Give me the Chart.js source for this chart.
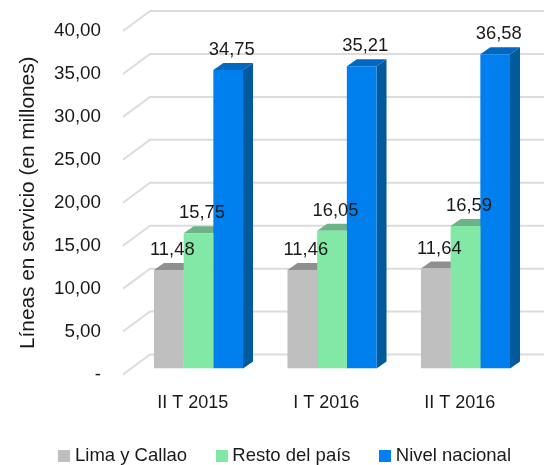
<!DOCTYPE html>
<html>
<head>
<meta charset="utf-8">
<style>
  html, body { margin: 0; padding: 0; background: #fff; }
  canvas { display: block; }
</style>
<script src="https://cdn.jsdelivr.net/npm/chart.js@4/dist/chart.umd.min.js"></script>
</head>
<body>
<canvas id="myChart" width="544" height="465"></canvas>
<script>
const categorias = ['II T 2015', 'I T 2016', 'II T 2016'];
const limaCallao = [11.48, 11.46, 11.64];
const restoPais = [15.75, 16.05, 16.59];
const nivelNacional = [34.75, 35.21, 36.58];
const etiquetasY = ['-', '5,00', '10,00', '15,00', '20,00', '25,00', '30,00', '35,00', '40,00'];

const fuente = 'Liberation Sans, Arial, sans-serif';
const colorTexto = '#1a1a1a';

// colores de cada cara: frente, tapa, lado
const caras = [
  { frente: '#bfbfbf', tapa: '#8f8f8f', lado: '#8f8f8f' },
  { frente: '#82e8a6', tapa: '#6db388', lado: '#6db388' },
  { frente: '#0080ee', tapa: '#0068c0', lado: '#005a9c' }
];

// desplazamiento del fondo y de las barras (falso 3D)
const fondo = { x: 27, y: -20 };
const frente = { x: 8.75, y: -6 };
const prof = { x: 10, y: -7 };

// cuadrito de la leyenda, asi el texto queda mas pegado que con boxWidth
function cuadro(color) {
  const c = document.createElement('canvas');
  c.width = 12;
  c.height = 12;
  const g = c.getContext('2d');
  g.fillStyle = color;
  g.fillRect(0, 0, 12, 12);
  return c;
}

const falso3D = {
  id: 'falso3D',
  beforeDatasetsDraw(chart) {
    const { ctx, scales: { y }, chartArea } = chart;
    ctx.save();
    ctx.strokeStyle = '#dcdcdc';
    ctx.lineWidth = 2;
    etiquetasY.forEach((t, i) => {
      const py = y.getPixelForValue(i * 5);
      ctx.beginPath();
      ctx.moveTo(chartArea.left, py);
      ctx.lineTo(chartArea.left + fondo.x, py + fondo.y);
      ctx.lineTo(544, py + fondo.y);
      ctx.stroke();
    });
    ctx.translate(frente.x, frente.y);
    caras.forEach((c, i) => {
      chart.getDatasetMeta(i).data.forEach(bar => {
        const l = bar.x - bar.width / 2;
        const r = bar.x + bar.width / 2;
        ctx.fillStyle = c.lado;
        ctx.beginPath();
        ctx.moveTo(r, bar.y);
        ctx.lineTo(r + prof.x, bar.y + prof.y);
        ctx.lineTo(r + prof.x, bar.base + prof.y);
        ctx.lineTo(r, bar.base);
        ctx.fill();
        ctx.fillStyle = c.tapa;
        ctx.beginPath();
        ctx.moveTo(l, bar.y);
        ctx.lineTo(l + prof.x, bar.y + prof.y);
        ctx.lineTo(r + prof.x, bar.y + prof.y);
        ctx.lineTo(r, bar.y);
        ctx.fill();
      });
    });
    ctx.restore();
  },
  beforeDatasetDraw(chart) {
    chart.ctx.save();
    chart.ctx.translate(frente.x, frente.y);
  },
  afterDatasetDraw(chart) {
    chart.ctx.restore();
  },
  afterDatasetsDraw(chart) {
    const { ctx } = chart;
    ctx.save();
    ctx.font = '18.4px ' + fuente;
    ctx.fillStyle = colorTexto;
    ctx.textAlign = 'center';
    ctx.textBaseline = 'middle';
    chart.data.datasets.forEach((ds, i) => {
      chart.getDatasetMeta(i).data.forEach((bar, j) => {
        const txt = ds.data[j].toFixed(2).replace('.', ',');
        ctx.fillText(txt, bar.x + frente.x + 3.5, bar.y + frente.y - 20);
      });
    });
    ctx.restore();
  }
};

new Chart(document.getElementById('myChart').getContext('2d'), {
  type: 'bar',
  data: {
    labels: categorias,
    datasets: [
      { label: 'Lima y Callao', data: limaCallao, backgroundColor: caras[0].frente, pointStyle: cuadro(caras[0].frente) },
      { label: 'Resto del país', data: restoPais, backgroundColor: caras[1].frente, pointStyle: cuadro(caras[1].frente) },
      { label: 'Nivel nacional', data: nivelNacional, backgroundColor: caras[2].frente, pointStyle: cuadro(caras[2].frente) }
    ]
  },
  options: {
    responsive: false,
    animation: false,
    layout: { padding: { left: 0, right: 0, top: 31, bottom: -10 } },
    datasets: { bar: { categoryPercentage: 0.667, barPercentage: 1 } },
    scales: {
      x: {
        grid: { display: false },
        border: { display: false },
        afterFit(s) { s.height = 39; },
        ticks: { color: colorTexto, font: { family: fuente, size: 18 }, padding: 10, labelOffset: 3, maxRotation: 0 }
      },
      y: {
        min: 0,
        max: 40,
        afterFit(s) { s.width = 123; },
        grid: { display: false },
        border: { display: false },
        title: {
          display: true,
          text: 'Líneas en servicio (en millones)',
          color: colorTexto,
          font: { family: fuente, size: 20.8 },
          padding: { top: 15.5, bottom: 0 }
        },
        ticks: {
          stepSize: 5,
          color: colorTexto,
          font: { family: fuente, size: 18.8 },
          padding: 14,
          callback: (v, i) => etiquetasY[i]
        }
      },
      // solo reserva el margen derecho para que la leyenda no se parta
      margenDer: {
        position: 'right',
        afterFit(s) { s.width = 20.5; },
        grid: { display: false },
        border: { display: false },
        ticks: { display: false }
      }
    },
    plugins: {
      tooltip: { enabled: false },
      legend: {
        position: 'bottom',
        align: 'end',
        labels: {
          color: colorTexto,
          font: { family: fuente, size: 18.5 },
          usePointStyle: true,
          pointStyleWidth: 3,
          boxHeight: 12,
          padding: 33
        }
      }
    }
  },
  plugins: [falso3D]
});
</script>
</body>
</html>
